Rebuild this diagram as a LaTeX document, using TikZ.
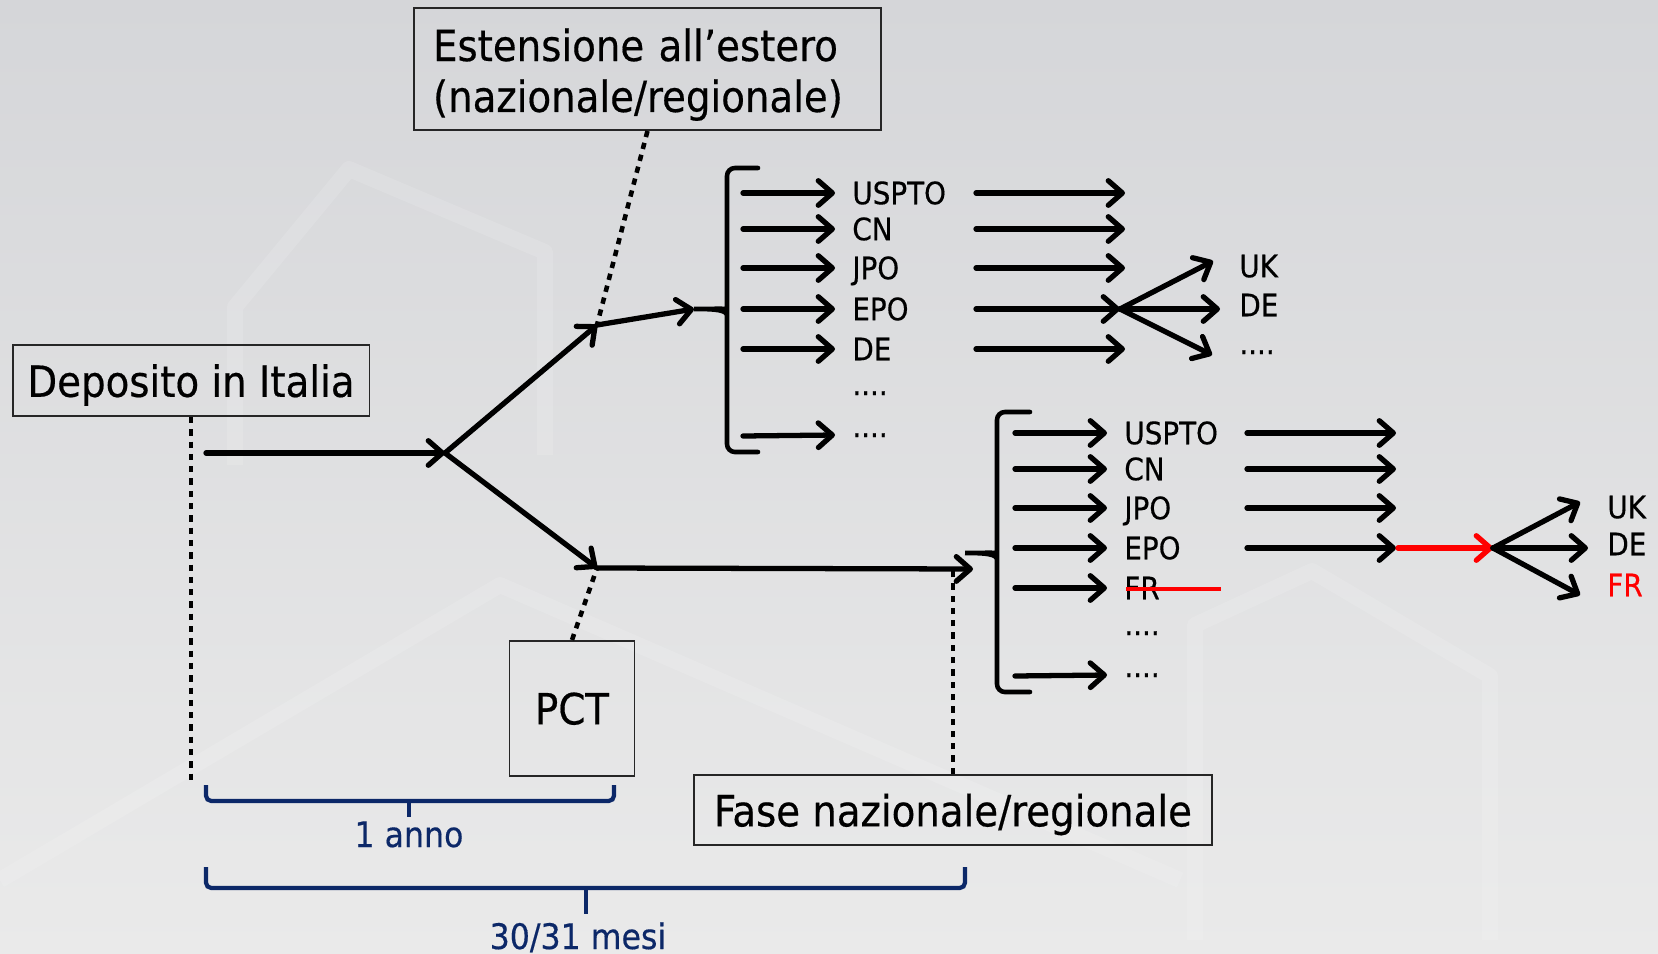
\documentclass[tikz,border=0pt]{standalone}
\usepackage{fontspec}
\setmainfont{DejaVu Sans Condensed}[FakeBold=0.4]
\usetikzlibrary{arrows.meta,positioning,calc}
\definecolor{navyb}{RGB}{12,40,104}
\definecolor{bgtop}{RGB}{213,214,217}
\definecolor{bgbot}{RGB}{234,234,234}
\tikzset{
  box/.style={rectangle, draw=black!85, line width=1.1pt, inner sep=0pt,
    font=\fontsize{24.5}{29}\selectfont},
  lbl/.style={anchor=west, inner xsep=0.34cm, inner ysep=0pt, text height=12.8pt,
    text depth=0pt, font=\fontsize{17.6}{19}\selectfont},
  dots/.style={lbl, text height=2.4pt},
  flow/.style={-{Straight Barb[length=8pt, width=14pt, round]}, line width=3pt, line cap=round},
  link/.style={line width=2.6pt, dash pattern=on 3.6pt off 3.4pt},
  brk/.style={line width=2.6pt, line cap=round},
  span/.style={line width=2.4pt, draw=navyb, rounded corners=3pt},
  spanlbl/.style={anchor=base, text=navyb, font=\fontsize{20}{22}\selectfont},
  strike/.style={red, line width=2.6pt},
  ghost/.style={white, opacity=0.13, line width=9pt, line join=round},
}

\begin{document}
\begin{tikzpicture}[x=0.02cm, y=-0.02cm]
  \useasboundingbox (0,0) rectangle (1658,954);
  \shade[top color=bgtop, bottom color=bgbot] (0,0) rectangle (1658,954);
  % faint background shapes
  \draw[ghost] (235,465) -- (235,307) -- (349,169) -- (545,252) -- (545,455);
  \draw[ghost] (0,880) -- (500,585) -- (1180,880);
  \draw[ghost] (1195,940) -- (1195,625) -- (1312,571) -- (1490,676) -- (1490,940);

  % boxes
  \node[box, text depth=0pt, minimum width=7.14cm, minimum height=1.42cm] (dep) at (191,380.5) {Deposito in Italia};
  \node[box, text width=8.58cm, inner xsep=0.38cm, minimum height=2.44cm, align=left] (est) at (647.5,69)
    {\rule{0pt}{25pt}Estensione all’estero\\(nazionale/regionale)};
  \node[box, text depth=0pt, minimum width=2.5cm, minimum height=2.7cm] (pct) at (572,708.4) {PCT};
  \node[box, text depth=0pt, minimum width=10.38cm, minimum height=1.4cm] (fase) at (953,810) {Fase nazionale/regionale};

  % trunk and branches
  \coordinate (s0) at (206,453);
  \coordinate (j0) at (445,453);
  \coordinate (j1) at (597,325);
  \coordinate (j2) at (597,568);
  \coordinate (uc) at (694,309);
  \coordinate (lt) at (973,569);
  \coordinate (d0) at (191,782);
  \coordinate (f0) at (953,569);
  \draw[link] (dep.south) -- (d0);
  \draw[link] (est.south) -- (j1);
  \draw[link] (pct.north) -- (j2);
  \draw[link] (fase.north) -- (f0);
  \draw[flow] (s0) -- (j0);
  \draw[flow] (j0) -- (j1);
  \draw[flow] (j1) -- (uc);
  \draw[flow] (j0) -- (j2);
  \draw[flow] (j2) -- (lt);

  % brackets
  \draw[brk] (758,168) [rounded corners=4.5pt] -- (727,168) -- (727,302) [sharp corners]
    .. controls (727,308) and (716,309) .. (694,309) .. controls (716,309) and (727,310) .. (727,316)
    [rounded corners=4.5pt] -- (727,452) -- (758,452);
  \draw[brk] (1030,412) [rounded corners=4.5pt] -- (997,412) -- (997,546) [sharp corners]
    .. controls (997,552) and (986,553) .. (965,553) .. controls (986,553) and (997,554) .. (997,560)
    [rounded corners=4.5pt] -- (997,692) -- (1030,692);

  % upper list
  \foreach \n/\y/\t in {1/193/USPTO, 2/229/CN, 3/268/JPO, 4/309/EPO, 5/349/DE} {
    \coordinate (us\n) at (743,\y);
    \node[lbl] (u\n) at (835,\y) {\t};
    \draw[flow] (us\n) -- (u\n.west);
  }
  \node[dots] (u6) at (835,393) {....};
  \coordinate (us7) at (743,436);
  \node[dots] (u7) at (835,435) {....};
  \draw[flow] (us7) -- (u7.west);
  \foreach \n/\y in {1/193, 2/229, 3/268, 5/349} {
    \coordinate (ua\n) at (976,\y);
    \coordinate (ub\n) at (1125,\y);
    \draw[flow] (ua\n) -- (ub\n);
  }
  \coordinate (ua4) at (976,309);
  \coordinate (uf) at (1120,309);
  \draw[flow] (ua4) -- (uf);
  \node[lbl] (uk1) at (1222,266) {UK};
  \node[lbl] (uk2) at (1222,305) {DE};
  \node[dots] (uk3) at (1222,352) {....};
  \coordinate (ut1) at (1213,261);
  \coordinate (ut2) at (1220,309);
  \coordinate (ut3) at (1212,355);
  \foreach \n in {1,2,3} \draw[flow] (uf) -- (ut\n);

  % lower list
  \foreach \n/\y/\t in {1/433/USPTO, 2/469/CN, 3/508/JPO, 4/548/EPO, 5/588/FR} {
    \coordinate (ls\n) at (1015,\y);
    \node[lbl] (l\n) at (1107,\y) {\t};
    \draw[flow] (ls\n) -- (l\n.west);
  }
  \node[dots] (l6) at (1107,633) {....};
  \coordinate (ls7) at (1015,676);
  \node[dots] (l7) at (1107,675) {....};
  \draw[flow] (ls7) -- (l7.west);
  \draw[strike] ($(l5.west)+(19,1)$) -- ++(95,0);
  \foreach \n/\y in {1/433, 2/469, 3/508, 4/548} {
    \coordinate (la\n) at (1247,\y);
    \coordinate (lb\n) at (1396,\y);
    \draw[flow] (la\n) -- (lb\n);
  }
  \coordinate (lr) at (1398,548);
  \coordinate (lf) at (1493,548);
  \draw[flow, red] (lr) -- (lf);
  \node[lbl] (lk1) at (1590,507) {UK};
  \node[lbl] (lk2) at (1590,544) {DE};
  \node[lbl, text=red] (lk3) at (1590,585) {FR};
  \coordinate (lt1) at (1580,502);
  \coordinate (lt2) at (1588,548);
  \coordinate (lt3) at (1580,595);
  \foreach \n in {1,2,3} \draw[flow] (lf) -- (lt\n);

  % time spans
  \draw[span] (206,785) -- (206,801) -- (614,801) -- (614,785);
  \draw[span] (409,801) -- (409,817);
  \node[spanlbl] (anno) at (409,847) {1 anno};
  \draw[span] (206,867) -- (206,888) -- (965,888) -- (965,867);
  \draw[span] (586,888) -- (586,914);
  \node[spanlbl] (mesi) at (578,949) {30/31 mesi};
\end{tikzpicture}
\end{document}
